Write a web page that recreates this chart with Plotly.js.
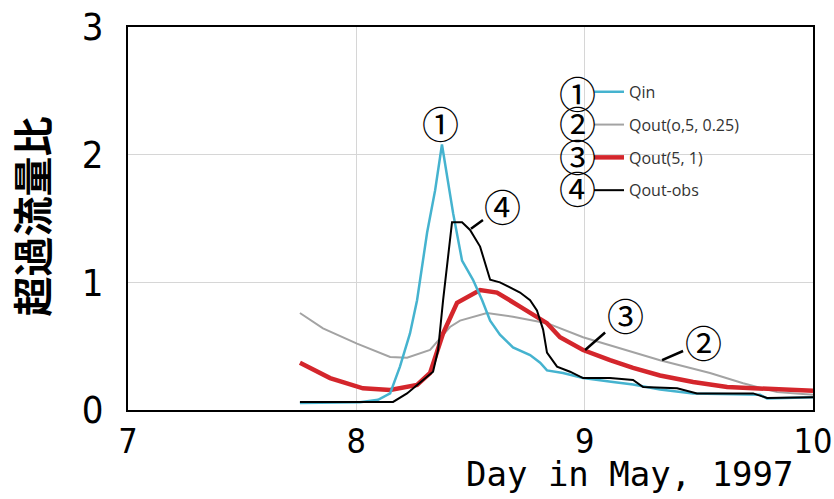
<!DOCTYPE html>
<html>
<head>
<meta charset="utf-8">
<script src="https://cdn.plot.ly/plotly-3.0.1.min.js"></script>
<style>html,body{margin:0;padding:0;background:#fff;}#chart{width:834px;height:499px;}</style>
</head>
<body>
<div id="chart"></div>
<script>
// Qin (①)
var qinX = [7.753, 8.016, 8.095, 8.148, 8.191, 8.235, 8.266, 8.310, 8.345, 8.375, 8.424, 8.463, 8.511, 8.551, 8.586, 8.629, 8.686, 8.761, 8.805, 8.835, 8.905, 8.993, 9.124, 9.212, 9.330, 9.475, 9.768, 9.799, 10.0];
var qinY = [0.055, 0.06, 0.08, 0.13, 0.34, 0.60, 0.86, 1.39, 1.72, 2.08, 1.54, 1.17, 1.02, 0.86, 0.70, 0.59, 0.49, 0.43, 0.37, 0.31, 0.29, 0.25, 0.22, 0.20, 0.16, 0.13, 0.12, 0.09, 0.10];
// Qout(o,5, 0.25) (②)
var q2X = [7.753, 7.854, 8.003, 8.148, 8.222, 8.323, 8.410, 8.454, 8.572, 8.686, 8.835, 8.892, 8.993, 9.330, 9.549, 9.694, 9.843, 10.0];
var q2Y = [0.76, 0.64, 0.52, 0.415, 0.41, 0.47, 0.65, 0.70, 0.76, 0.73, 0.68, 0.64, 0.57, 0.39, 0.29, 0.21, 0.14, 0.12];
// Qout(5, 1) (③)
var q3X = [7.753, 7.885, 8.029, 8.148, 8.266, 8.323, 8.380, 8.441, 8.542, 8.616, 8.717, 8.835, 8.892, 8.993, 9.111, 9.212, 9.330, 9.475, 9.624, 9.768, 10.0];
var q3Y = [0.37, 0.25, 0.17, 0.157, 0.196, 0.29, 0.60, 0.84, 0.94, 0.92, 0.81, 0.68, 0.57, 0.47, 0.39, 0.33, 0.27, 0.22, 0.18, 0.17, 0.15];
// Qout-obs (④)
var q4X = [7.753, 8.161, 8.222, 8.292, 8.336, 8.358, 8.380, 8.419, 8.463, 8.498, 8.542, 8.586, 8.629, 8.717, 8.761, 8.791, 8.818, 8.835, 8.879, 8.936, 8.993, 9.111, 9.212, 9.256, 9.405, 9.492, 9.738, 9.799, 9.913, 10.0];
var q4Y = [0.063, 0.063, 0.13, 0.235, 0.30, 0.47, 0.86, 1.47, 1.47, 1.41, 1.28, 1.02, 1.00, 0.92, 0.86, 0.78, 0.63, 0.45, 0.34, 0.30, 0.25, 0.25, 0.235, 0.18, 0.17, 0.13, 0.13, 0.094, 0.10, 0.10];

var seriesNames = ['Qin', 'Qout(o,5, 0.25)', 'Qout(5, 1)', 'Qout-obs'];
var circled = ['①', '②', '③', '④'];
var xTicks = [7, 8, 9, 10];
var yTicks = [0, 1, 2, 3];
var xTitle = 'Day in May, 1997';
var yTitle = '超過流量比';

var traces = [
  {x: q2X, y: q2Y, name: seriesNames[1], legendgroup: 'g2', legendrank: 2, mode: 'lines', line: {color: '#a3a3a3', width: 2}},
  {x: q3X, y: q3Y, name: seriesNames[2], legendgroup: 'g3', legendrank: 3, mode: 'lines', line: {color: '#d4262c', width: 4.5}},
  {x: qinX, y: qinY, name: seriesNames[0], legendgroup: 'g1', legendrank: 1, mode: 'lines', line: {color: '#45b3cf', width: 2.5}},
  {x: q4X, y: q4Y, name: seriesNames[3], legendgroup: 'g4', legendrank: 4, mode: 'lines', line: {color: '#000000', width: 2}}
];

var cFont = {family: 'Noto Sans CJK JP', size: 37, color: '#000'};
var legX = 8.967;
var legY = [2.48, 2.25, 1.99, 1.74];
var annotations = [
  {x: 8.367, y: 2.25, xref: 'x', yref: 'y', text: circled[0], showarrow: false, font: cFont},
  {x: 8.502, y: 1.42, xref: 'x', yref: 'y', text: circled[3], showarrow: true, arrowhead: 0, arrowwidth: 2.5, arrowcolor: '#000', ax: 32, ay: -23, font: cFont},
  {x: 9.002, y: 0.47, xref: 'x', yref: 'y', text: circled[2], showarrow: true, arrowhead: 0, arrowwidth: 2.5, arrowcolor: '#000', ax: 40, ay: -35, font: cFont},
  {x: 9.339, y: 0.39, xref: 'x', yref: 'y', text: circled[1], showarrow: true, arrowhead: 0, arrowwidth: 2.5, arrowcolor: '#000', ax: 41, ay: -18, font: cFont},
  {x: 0.975, y: -0.167, xref: 'paper', yref: 'paper', xanchor: 'right', yanchor: 'middle', text: xTitle, showarrow: false,
   font: {family: 'DejaVu Sans Mono', size: 34, color: '#000'}},
  {x: -0.141, y: 0.506, xref: 'paper', yref: 'paper', xanchor: 'center', yanchor: 'middle', textangle: -90, text: yTitle, showarrow: false,
   font: {family: 'Noto Sans CJK JP', size: 40, color: '#000', weight: 'bold'}}
];
for (var i = 0; i < 4; i++) {
  annotations.push({x: legX, y: legY[i], xref: 'x', yref: 'y', text: circled[i], showarrow: false, font: cFont});
}

var layout = {
  width: 834, height: 499,
  margin: {l: 128, r: 21, t: 27, b: 89},
  paper_bgcolor: '#fff', plot_bgcolor: '#fff',
  showlegend: true,
  legend: {x: 0.673, y: 0.875, xanchor: 'left', yanchor: 'top', bgcolor: 'rgba(0,0,0,0)', borderwidth: 0,
           font: {family: 'Open Sans', size: 16, color: '#333'}, traceorder: 'grouped', tracegroupgap: 9, itemwidth: 30},
  xaxis: {range: [7, 10], tickvals: xTicks, ticktext: xTicks.map(String), showgrid: true, gridcolor: '#d6d6d6', gridwidth: 1,
          showline: true, linecolor: '#000', linewidth: 2, mirror: true, zeroline: false, ticks: '', ticklabelstandoff: 0,
          tickfont: {family: 'DejaVu Sans Condensed, sans-serif', size: 34, color: '#000'}},
  yaxis: {range: [0, 3], tickvals: yTicks, ticktext: yTicks.map(String), showgrid: true, gridcolor: '#d6d6d6', gridwidth: 1,
          showline: true, linecolor: '#000', linewidth: 2, mirror: true, zeroline: false, ticks: '', ticklabelstandoff: 15,
          tickfont: {family: 'DejaVu Sans Condensed, sans-serif', size: 38, color: '#000'}},
  annotations: annotations
};

Plotly.newPlot('chart', traces, layout, {displayModeBar: false, staticPlot: true});
</script>
</body>
</html>
